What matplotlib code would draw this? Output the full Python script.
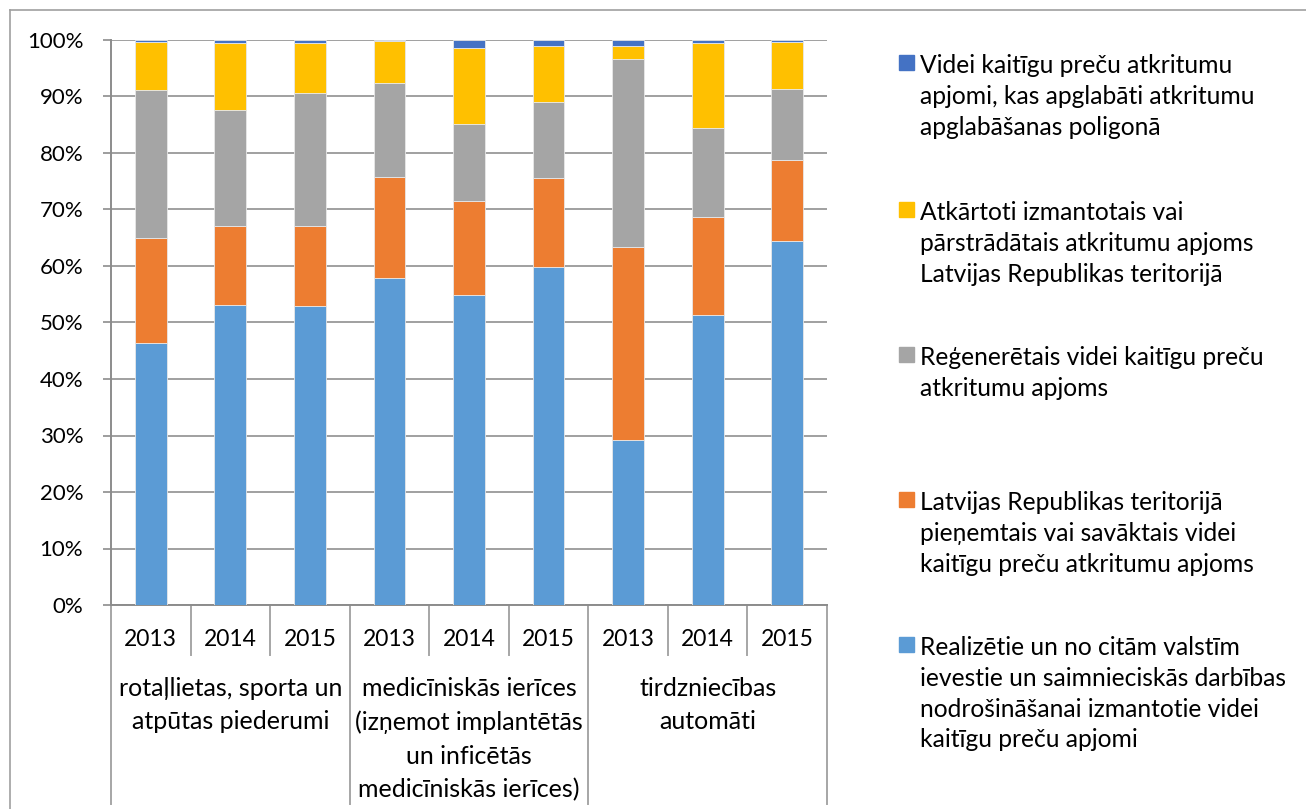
import matplotlib
matplotlib.use("Agg")
import matplotlib.pyplot as plt
import matplotlib.transforms as mtransforms
from matplotlib.lines import Line2D
from matplotlib.patches import Rectangle
import numpy as np

plt.rcParams['font.family'] = ['Lato', 'DejaVu Sans']

years = ["2013", "2014", "2015"] * 3
groups = ["rotaļlietas, sporta un\natpūtas piederumi",
          "medicīniskās ierīces\n(izņemot implantētās\nun inficētās\nmedicīniskās ierīces)",
          "tirdzniecības\nautomāti"]

# shares in %, bottom to top
realizetie = [46.4, 53.1, 53.0, 57.8, 54.9, 59.9, 29.2, 51.3, 64.5]
savaktais = [18.6, 13.9, 14.0, 18.0, 16.6, 15.6, 34.1, 17.4, 14.3]
regeneretais = [26.2, 20.6, 23.6, 16.6, 13.7, 13.5, 33.3, 15.8, 12.5]
parstradatais = [8.4, 11.9, 8.9, 7.4, 13.4, 10.0, 2.3, 15.0, 8.3]
apglabati = [0.4, 0.5, 0.5, 0.2, 1.4, 1.0, 1.1, 0.5, 0.4]

series = [
    (realizetie, "#5B9BD5", "Realizētie un no citām valstīm\nievestie un saimnieciskās darbības\nnodrošināšanai izmantotie videi\nkaitīgu preču apjomi"),
    (savaktais, "#ED7D31", "Latvijas Republikas teritorijā\npieņemtais vai savāktais videi\nkaitīgu preču atkritumu apjoms"),
    (regeneretais, "#A5A5A5", "Reģenerētais videi kaitīgu preču\natkritumu apjoms"),
    (parstradatais, "#FFC000", "Atkārtoti izmantotais vai\npārstrādātais atkritumu apjoms\nLatvijas Republikas teritorijā"),
    (apglabati, "#4472C4", "Videi kaitīgu preču atkritumu\napjomi, kas apglabāti atkritumu\napglabāšanas poligonā"),
]

W, H = 1306, 809
fig = plt.figure(figsize=(W / 100, H / 100), dpi=100)
ax = fig.add_axes([111 / W, 1 - 605 / H, (827 - 111) / W, (605 - 40) / H])

x = np.arange(len(years))
totals = np.sum([s[0] for s in series], axis=0)
bottom = np.zeros(len(years))
for vals, col, lab in series:
    v = np.array(vals) / totals * 100
    ax.bar(x, v, 0.4, bottom=bottom, color=col, edgecolor='#E8E8E8', linewidth=0.6, zorder=3)
    bottom += v

ax.set_xlim(-0.5, len(years) - 0.5)
ax.set_ylim(0, 100)
ax.set_yticks(np.arange(0, 101, 10))
ax.set_yticklabels([f"{t}%" for t in range(0, 101, 10)], fontsize=16)
ax.yaxis.grid(True, color='#A0A0A0', linewidth=1.4, zorder=0)
ax.tick_params(axis='y', length=6, width=1.2, color='#8C8C8C', pad=14)
ax.tick_params(axis='x', length=0, labelbottom=False)
for s in ['top', 'right']:
    ax.spines[s].set_visible(False)
ax.spines['left'].set_color('#8C8C8C')
ax.spines['left'].set_linewidth(1.4)
ax.spines['bottom'].set_color('#8C8C8C')
ax.spines['bottom'].set_linewidth(1.4)

trans = mtransforms.blended_transform_factory(ax.transData, ax.transAxes)
axh = 605 - 40
for i in range(len(years) + 1):
    xb = i - 0.5
    low = -199 / axh if i % 3 == 0 else -50 / axh
    ax.plot([xb, xb], [0, low], transform=trans, color='#A6A6A6', lw=1.4, clip_on=False)

for i, yr in enumerate(years):
    ax.text(i, -35 / axh, yr, transform=trans, ha='center', va='center', fontsize=16.5)

for g, lab in enumerate(groups):
    ax.text(3 * g + 1, -72 / axh, lab, transform=trans, ha='center', va='top',
            fontsize=18, linespacing=1.55)

# legend (manual, Excel-like, top to bottom reversed order)
leg_y = [63, 210, 355, 500, 645]
for (vals, col, lab), yy in zip(series[::-1], leg_y):
    fig.patches.append(Rectangle((899 / W, 1 - (yy + 7) / H), 15 / W, 15 / H,
                                 transform=fig.transFigure, color=col, figure=fig))
    fig.text(920 / W, 1 - (yy - 9) / H, lab, ha='left', va='top', fontsize=17.7,
             linespacing=1.41)

# outer chart frame
fig.add_artist(Line2D([10 / W, 1.0], [1 - 10 / H, 1 - 10 / H], color='#A0A0A0', lw=1.2))
fig.add_artist(Line2D([10 / W, 10 / W], [0, 1 - 10 / H], color='#A0A0A0', lw=1.2))

fig.savefig("out.png", dpi=100)
